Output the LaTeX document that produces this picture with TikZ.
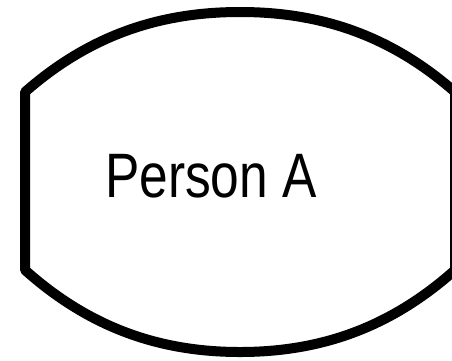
\documentclass[tikz,border=0pt]{standalone}
\usepackage{fontspec}
\setmainfont{Liberation Sans}
\usepackage{tikz}
\usetikzlibrary{positioning}

\begin{document}
\begin{tikzpicture}[
    x=1bp, y=-1bp,
    outline/.style={line width=10bp, line join=bevel},
    label/.style={font=\fontsize{63}{70}\selectfont, inner sep=0pt, xscale=0.82, transform shape}
]

% Canvas
\useasboundingbox (0,0) rectangle (452,360);

% Barrel shape
\draw[outline] (25,92) .. controls (90,35) and (160,12) .. (240,12)
    .. controls (320,12) and (390,35) .. (455,92)
    -- (455,270)
    .. controls (390,328) and (320,352) .. (240,352)
    .. controls (160,352) and (90,328) .. (25,270)
    -- cycle;

% Text
\node[label, anchor=base] (personA) at (211,197) {Person A};

\end{tikzpicture}
\end{document}
